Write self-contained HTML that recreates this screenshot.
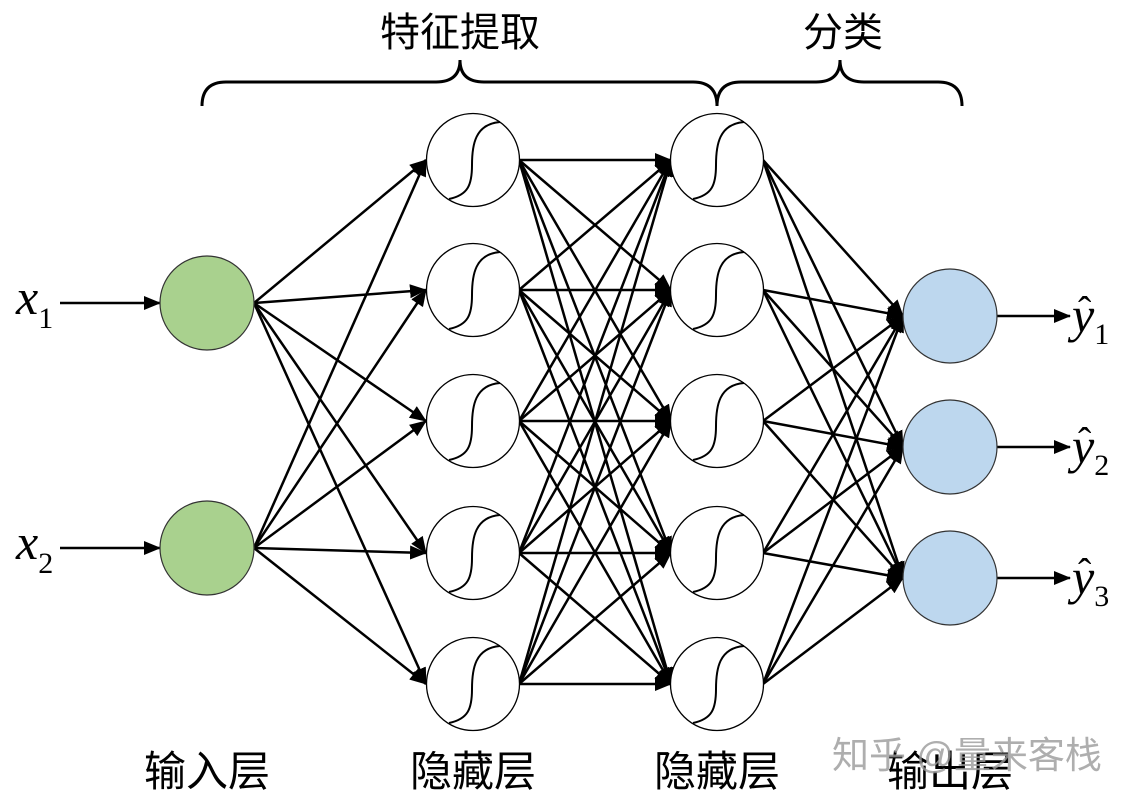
<!DOCTYPE html>
<html><head><meta charset="utf-8"><style>
html,body{margin:0;padding:0;background:#fff;width:1132px;height:800px;overflow:hidden}
svg{display:block}
.cn{font-family:"Liberation Sans","Noto Sans CJK SC",sans-serif;font-size:40px;fill:#000}
.m{font-family:"Liberation Serif",serif;font-style:italic;font-size:50px}
.s{font-family:"Liberation Serif",serif;font-style:normal;font-size:30px}
</style></head><body>
<svg id="g" width="1132" height="800" viewBox="0 0 1132 800" xmlns="http://www.w3.org/2000/svg">
<defs><marker id="a" markerUnits="userSpaceOnUse" markerWidth="18" markerHeight="14" refX="16" refY="7" orient="auto"><path d="M0,0 L17,7 L0,14 Z" fill="#000"/></marker></defs>
<g id="edges" stroke="#000" stroke-width="2.5" fill="none"></g>
<g id="nodes"></g>
<path d="M202,106 Q202,82 226,82 L436,82 Q460,82 460,60 Q460,82 484,82 L693,82 Q717,82 717,106" stroke="#000" stroke-width="3" fill="none"/>
<path d="M717,106 Q717,82 741,82 L816,82 Q840,82 840,60 Q840,82 864,82 L938,82 Q962,82 962,106" stroke="#000" stroke-width="3" fill="none"/>
<text class="cn" x="460" y="46" text-anchor="middle">特征提取</text>
<text class="cn" x="843" y="46" text-anchor="middle">分类</text>
<text class="cn" x="207" y="786" text-anchor="middle" style="font-size:42px">输入层</text>
<text class="cn" x="473" y="786" text-anchor="middle" style="font-size:42px">隐藏层</text>
<text class="cn" x="717" y="786" text-anchor="middle" style="font-size:42px">隐藏层</text>
<text class="cn" x="950" y="786" text-anchor="middle" style="font-size:42px">输出层</text>
<text class="cn" x="832" y="768" style="fill:#9a9a9a;font-size:37px;opacity:.8">知乎 @量来客栈</text>
<text class="m" x="16" y="314">x<tspan class="s" dy="14">1</tspan></text>
<text class="m" x="16" y="559">x<tspan class="s" dy="14">2</tspan></text>
<text class="m" x="1072" y="332">y<tspan class="s" dy="12">1</tspan></text>
<text class="m" x="1072" y="463">y<tspan class="s" dy="12">2</tspan></text>
<text class="m" x="1072" y="594">y<tspan class="s" dy="12">3</tspan></text>
<text class="m" x="1078" y="324" style="font-style:normal;font-size:40px">ˆ</text>
<text class="m" x="1078" y="455" style="font-style:normal;font-size:40px">ˆ</text>
<text class="m" x="1078" y="586" style="font-style:normal;font-size:40px">ˆ</text>
</svg>
<script>
var NS="http://www.w3.org/2000/svg",E=document.getElementById("edges"),N=document.getElementById("nodes");
function el(p,t,a){var e=document.createElementNS(NS,t);for(var k in a)e.setAttribute(k,a[k]);p.appendChild(e);return e;}
function ln(x1,y1,x2,y2){el(E,"line",{x1:x1,y1:y1,x2:x2,y2:y2,"marker-end":"url(#a)"});}
var I=[303,548],H=[160,290,421,553,684],O=[316,447,578];
I.forEach(function(a){H.forEach(function(b){ln(254,a,426,b);});});
H.forEach(function(a){H.forEach(function(b){ln(519,a,671,b);});});
H.forEach(function(a){O.forEach(function(b){ln(763,a,903,b);});});
ln(60,303,160,303);ln(60,548,160,548);
O.forEach(function(b){ln(997,b,1070,b);});
I.forEach(function(y){el(N,"circle",{cx:207,cy:y,r:47,fill:"#a9d18e",stroke:"#333","stroke-width":1.2});});
O.forEach(function(y){el(N,"circle",{cx:950,cy:y,r:47,fill:"#bdd7ee",stroke:"#333","stroke-width":1.2});});
[473,717].forEach(function(x){H.forEach(function(y){
el(N,"circle",{cx:x,cy:y,r:46.5,fill:"#fff",stroke:"#000","stroke-width":1.3});
el(N,"path",{d:"M"+(x-24)+","+(y+39)+" C"+(x-5)+","+(y+35)+" "+(x-1)+","+(y+25)+" "+(x-1)+","+(y+5)+" S"+(x+2)+","+(y-36)+" "+(x+27)+","+(y-38),fill:"none",stroke:"#000","stroke-width":2});
});});
</script>
</body></html>
